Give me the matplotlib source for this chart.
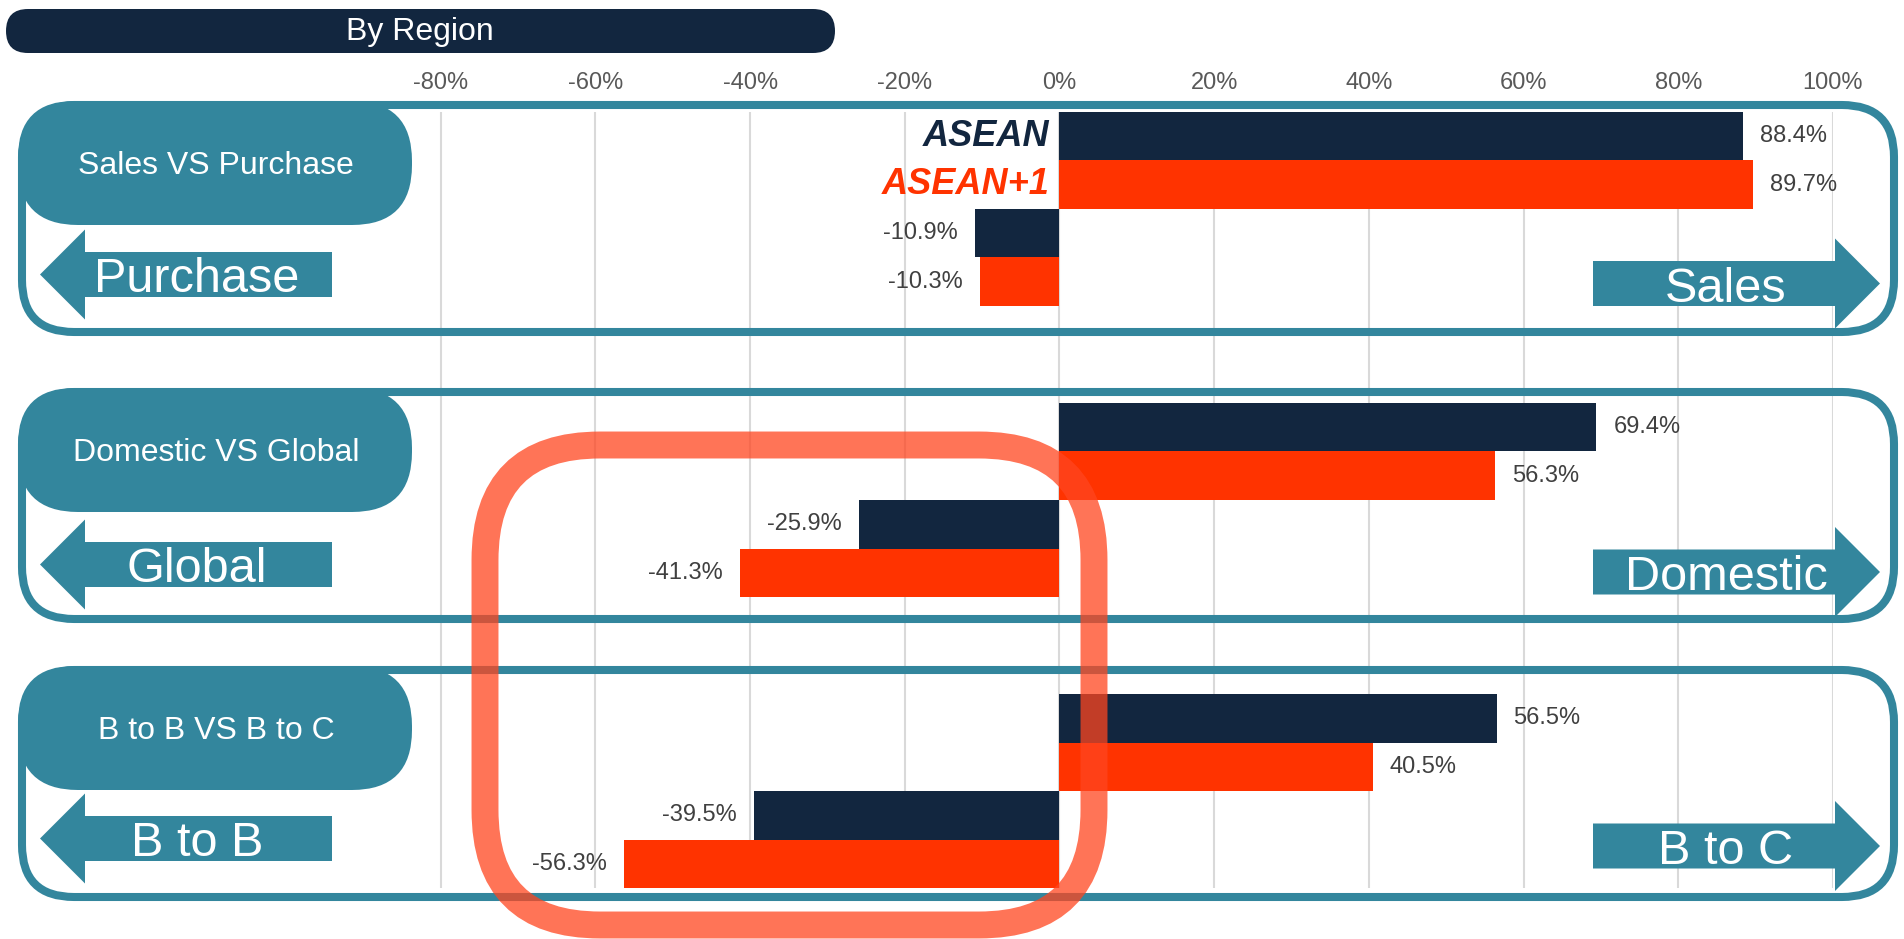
import numpy as np
import matplotlib.pyplot as plt
from matplotlib.patches import FancyBboxPatch, Polygon

plt.rcParams['font.family'] = ['Liberation Sans', 'DejaVu Sans']

# data (percent), one slot per bar group; blank slots separate the panels
asean = [88.4, -10.9, np.nan, 69.4, -25.9, np.nan, 56.5, -39.5]
asean_plus1 = [89.7, -10.3, np.nan, 56.3, -41.3, np.nan, 40.5, -56.3]
series_names = ['ASEAN', 'ASEAN+1']
tick_values = [-80, -60, -40, -20, 0, 20, 40, 60, 80, 100]
panel_titles = ['Sales VS Purchase', 'Domestic VS Global', 'B to B VS B to C']
left_labels = ['Purchase', 'Global', 'B to B']
right_labels = ['Sales', 'Domestic', 'B to C']
chart_title = 'By Region'

NAVY = '#12263F'
ORANGE = '#FF3300'
TEAL = '#33869D'
W, H = 1904, 939

fig = plt.figure(figsize=(W / 100, H / 100), dpi=100)
ax = fig.add_axes([402 / W, 1 - 888 / H, (1833 - 402) / W, 776 / H])

y = np.arange(len(asean))
a1 = np.array(asean) / 100
a2 = np.array(asean_plus1) / 100
ax.barh(y - 0.25, a1, height=0.5, color=NAVY, zorder=3)
ax.barh(y + 0.25, a2, height=0.5, color=ORANGE, zorder=3)

ax.set_xlim(-0.85, 1.0)
ax.set_ylim(7.5, -0.5)
ax.set_xticks(np.array(tick_values) / 100)
ax.set_xticklabels([f'{t}%' for t in tick_values])
ax.xaxis.tick_top()
ax.tick_params(axis='x', length=0, pad=13, labelsize=17, labelcolor='#595959')
ax.set_yticks([])
ax.grid(axis='x', color='#D9D9D9', lw=1.5)
ax.set_axisbelow(True)
for s in ax.spines.values():
    s.set_visible(False)

# data labels
for vals, off in ((a1, -0.25), (a2, 0.25)):
    for yi, v in zip(y, vals):
        if np.isnan(v):
            continue
        if v >= 0:
            ax.text(v + 0.022, yi + off, f'{v * 100:.1f}%', ha='left', va='center',
                    fontsize=17, color='#404040', zorder=4)
        else:
            ax.text(v - 0.022, yi + off, f'{v * 100:.1f}%', ha='right', va='center',
                    fontsize=17, color='#404040', zorder=4)

# series names next to the first bars
for name, off, col in zip(series_names, (-0.25, 0.25), (NAVY, ORANGE)):
    ax.text(-0.013, off, name, ha='right', va='center', fontsize=26,
            fontweight='bold', fontstyle='italic', color=col)

# overlay in pixel coordinates for the decorations
ov = fig.add_axes([0, 0, 1, 1], zorder=5)
ov.set_xlim(0, W)
ov.set_ylim(H, 0)
ov.axis('off')

ov.add_patch(FancyBboxPatch((6, 9), 829, 44, boxstyle='round,pad=0,rounding_size=22',
                            fc=NAVY, ec='none'))
ov.text(420, 32, chart_title, ha='center', va='center', fontsize=23, color='white')

panel_tops = [105, 392, 670]
left_centers = [274.5, 564.5, 838.5]
right_centers = [283.5, 572, 846]
for i in range(3):
    top = panel_tops[i]
    ov.add_patch(FancyBboxPatch((22, top), 1872, 227,
                                boxstyle='round,pad=0,rounding_size=52',
                                fc='none', ec=TEAL, lw=5.8))
    ov.add_patch(FancyBboxPatch((18, top - 4), 394, 124,
                                boxstyle='round,pad=0,rounding_size=60',
                                fc=TEAL, ec='none'))
    ov.text(216, top - 4 + 62 + 3, panel_titles[i], ha='center', va='center',
            fontsize=23, color='white')

    c = left_centers[i]
    ov.add_patch(Polygon([(40, c), (85, c - 45), (85, c - 22.5), (332, c - 22.5),
                          (332, c + 22.5), (85, c + 22.5), (85, c + 45)],
                         closed=True, fc=TEAL, ec='none'))
    ov.text(197, c + 22.5 - 4.5, left_labels[i], ha='center', va='baseline',
            fontsize=35, color='white')

    c = right_centers[i]
    ov.add_patch(Polygon([(1880, c), (1835, c - 45), (1835, c - 22.5), (1593, c - 22.5),
                          (1593, c + 22.5), (1835, c + 22.5), (1835, c + 45)],
                         closed=True, fc=TEAL, ec='none'))
    ov.text(1726, c + 22.5 - 4.5, right_labels[i], ha='center', va='baseline',
            fontsize=35, color='white')

# highlight ring
ov.add_patch(FancyBboxPatch((485, 445), 609, 480,
                            boxstyle='round,pad=0,rounding_size=115',
                            fc='none', ec=(1.0, 0.27, 0.12), alpha=0.75, lw=19.4))

fig.savefig('out.png', dpi=100)
